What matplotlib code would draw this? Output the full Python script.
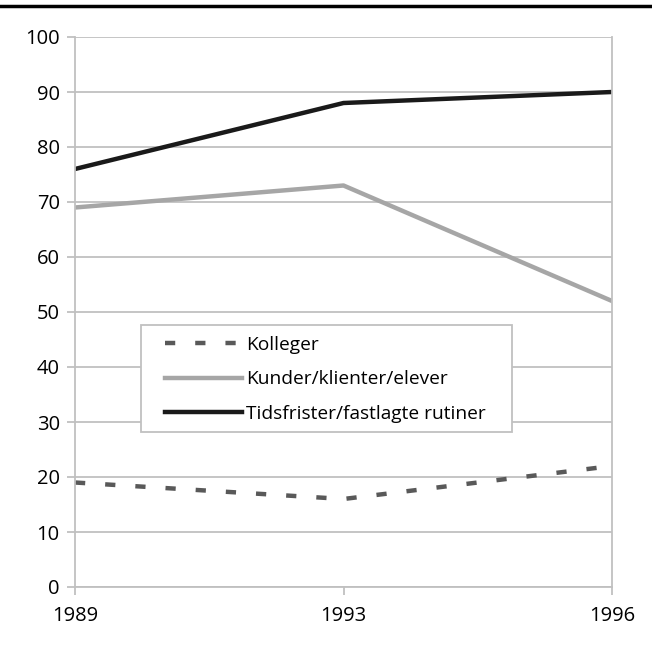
import matplotlib.pyplot as plt
from matplotlib.lines import Line2D
from matplotlib.patches import Rectangle

# =============================================================================
# Data
# =============================================================================
years = ["1989", "1993", "1996"]
kolleger = [19, 16, 22]
kunder = [69, 73, 52]
tidsfrister = [76, 88, 90]
y_ticks = list(range(0, 101, 10))

plt.rcParams["font.family"] = ["Open Sans", "DejaVu Sans"]
grid_col = "#c0c0c0"
W, H = 652, 646

fig = plt.figure(figsize=(W / 100, H / 100), dpi=100)
ax = fig.add_axes([75 / W, 1 - 587 / H, (612 - 75) / W, (587 - 37) / H])

x = range(len(years))
ax.plot(x, kolleger, color="#595959", lw=3.2, dashes=(2.3, 4.5), label="Kolleger")
ax.plot(x, kunder, color="#a6a6a6", lw=3.2, label="Kunder/klienter/elever")
ax.plot(x, tidsfrister, color="#1a1a1a", lw=3.2, label="Tidsfrister/fastlagte rutiner")

ax.set_xlim(0, len(years) - 1)
ax.set_ylim(0, 100)
ax.set_xticks(list(x))
ax.set_xticklabels(years)
ax.set_yticks(y_ticks)
ax.grid(axis="y", color=grid_col, lw=1.3)
ax.set_axisbelow(True)
for s in ax.spines.values():
    s.set_color(grid_col)
    s.set_linewidth(1.3)
ax.spines["top"].set_visible(False)
ax.tick_params(colors=grid_col, labelcolor="black", labelsize=14.5, length=6, width=1.3)
ax.tick_params(axis="x", pad=8)
ax.tick_params(axis="y", pad=5)

# legend frame drawn separately (wider side padding than Legend allows)
ax.add_patch(Rectangle((141 / W, 1 - 432 / H), (512 - 141) / W, (432 - 325) / H,
                       transform=fig.transFigure, facecolor="white",
                       edgecolor=grid_col, lw=1.3, zorder=4, clip_on=False))
leg = ax.legend(loc="upper left", bbox_to_anchor=(165 / W, 1 - 336 / H),
                bbox_transform=fig.transFigure, frameon=False,
                fontsize=13.8, handlelength=4.0, handletextpad=0.25,
                borderpad=0, labelspacing=0.86, borderaxespad=0)
leg.set_zorder(5)

# black rule at the top
fig.add_artist(Line2D([0, 1], [1 - 6 / H, 1 - 6 / H], transform=fig.transFigure,
                      color="black", lw=2.5))

fig.savefig("out.png", dpi=100)
